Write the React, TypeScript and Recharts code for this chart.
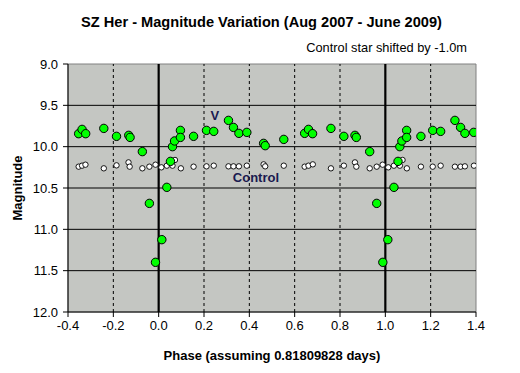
import {
  ScatterChart,
  Scatter,
  XAxis,
  YAxis,
  ReferenceLine,
  ReferenceArea,
  ReferenceDot,
} from "recharts";

// V star: [phase, magnitude]
const vPhase = [
  -0.353, -0.338, -0.322, -0.242, -0.186, -0.132, -0.126, -0.072, -0.041, -0.014,
  0.014, 0.036, 0.052, 0.061, 0.07, 0.096, 0.096, 0.154, 0.211, 0.243, 0.308, 0.33,
  0.354, 0.389, 0.463, 0.47, 0.552, 0.644, 0.661, 0.679, 0.76, 0.817, 0.866, 0.872,
  0.931, 0.962, 0.989, 1.011, 1.038, 1.056, 1.064, 1.073, 1.094, 1.094, 1.157, 1.209,
  1.244, 1.307, 1.332, 1.351, 1.39,
];
const vMag = [
  9.843, 9.791, 9.843, 9.779, 9.875, 9.863, 9.888, 10.06, 10.686, 11.399,
  11.125, 10.492, 10.178, 10.0, 9.931, 9.803, 9.888, 9.875, 9.803, 9.815, 9.682, 9.767,
  9.839, 9.827, 9.96, 9.988, 9.912, 9.839, 9.791, 9.843, 9.779, 9.875, 9.863, 9.888,
  10.06, 10.686, 11.399, 11.125, 10.492, 10.178, 10.0, 9.931, 9.803, 9.888, 9.875, 9.803,
  9.815, 9.682, 9.767, 9.839, 9.827,
];

// control star (shifted by -1.0m)
const cPhase = [
  -0.353, -0.338, -0.323, -0.242, -0.186, -0.133, -0.128, -0.072, -0.041, -0.014,
  0.012, 0.036, 0.061, 0.072, 0.098, 0.154, 0.211, 0.243, 0.308, 0.33, 0.354, 0.389,
  0.463, 0.47, 0.552, 0.644, 0.661, 0.68, 0.76, 0.817, 0.866, 0.872, 0.931, 0.962,
  0.988, 1.013, 1.038, 1.064, 1.076, 1.095, 1.157, 1.209, 1.244, 1.307, 1.332, 1.351,
  1.391,
];
const cMag = [
  10.242, 10.23, 10.218, 10.262, 10.226, 10.19, 10.242, 10.262, 10.242, 10.218,
  10.25, 10.23, 10.23, 10.161, 10.262, 10.242, 10.238, 10.23, 10.238, 10.238, 10.238, 10.23,
  10.214, 10.238, 10.23, 10.242, 10.23, 10.214, 10.262, 10.23, 10.19, 10.242, 10.262, 10.242,
  10.218, 10.25, 10.23, 10.23, 10.161, 10.262, 10.242, 10.242, 10.23, 10.242, 10.242, 10.238,
  10.23,
];

const xTicks = [-0.4, -0.2, 0, 0.2, 0.4, 0.6, 0.8, 1.0, 1.2, 1.4];
const yTicks = [9.0, 9.5, 10.0, 10.5, 11.0, 11.5, 12.0];
const dashedX = [-0.2, 0.2, 0.4, 0.6, 0.8, 1.2];
const solidX = [0, 1.0];
const hLines = [9.5, 10.0, 10.5, 11.0, 11.5];

const vData = vPhase.map((p, i) => ({ phase: p, mag: vMag[i] }));
const cData = cPhase.map((p, i) => ({ phase: p, mag: cMag[i] }));

const FONT = "Arial, 'Liberation Sans', sans-serif";

const GreenDot = (props: any) => (
  <circle cx={props.cx} cy={props.cy} r={4.2} fill="#00ff00" stroke="#000" strokeWidth={1} />
);
const WhiteDot = (props: any) => (
  <circle cx={props.cx} cy={props.cy} r={2.7} fill="#ffffff" stroke="#000" strokeWidth={0.9} />
);

export default function App() {
  return (
    <div style={{ position: "absolute", left: 0, top: 0, width: 520, height: 373, background: "#fff", fontFamily: FONT }}>
      <div style={{ position: "absolute", left: 0, width: 520, top: 14, textAlign: "center", paddingLeft: 3, boxSizing: "border-box", fontSize: 14.6, fontWeight: "bold", color: "#000", lineHeight: "17px" }}>
        SZ Her - Magnitude Variation (Aug 2007 - June 2009)
      </div>
      <div style={{ position: "absolute", right: 53, top: 40, fontSize: 12.8, color: "#000", lineHeight: "15px" }}>
        Control star shifted by -1.0m
      </div>
      <ScatterChart width={520} height={373} margin={{ top: 64, right: 44, left: 0, bottom: 0 }}>
        <ReferenceArea x1={-0.4} x2={1.4} y1={9} y2={12} fill="#c4c6c2" fillOpacity={1} stroke="#808080" strokeWidth={1} />
        {hLines.map((v) => (
          <ReferenceLine key={"h" + v} y={v} stroke="#000" strokeWidth={1} />
        ))}
        {dashedX.map((v) => (
          <ReferenceLine key={"d" + v} x={v} stroke="#000" strokeWidth={1} strokeDasharray="3 3" />
        ))}
        {solidX.map((v) => (
          <ReferenceLine key={"s" + v} x={v} stroke="#000" strokeWidth={2.2} />
        ))}
        <XAxis
          type="number"
          dataKey="phase"
          domain={[-0.4, 1.4]}
          ticks={xTicks}
          tickFormatter={(v: number) => v.toFixed(1)}
          height={61}
          stroke="#000"
          tickSize={5}
          tickMargin={4}
          tick={{ fill: "#000", fontSize: 13, fontFamily: FONT }}
          label={{ value: "Phase (assuming 0.81809828 days)", position: "insideBottom", offset: 13, fill: "#000", fontSize: 13, fontWeight: "bold", fontFamily: FONT }}
          allowDataOverflow
        />
        <YAxis
          type="number"
          dataKey="mag"
          domain={[9, 12]}
          reversed
          ticks={yTicks}
          tickFormatter={(v: number) => v.toFixed(1)}
          width={68}
          stroke="#000"
          tickSize={5}
          tickMargin={5}
          tick={{ fill: "#000", fontSize: 13, fontFamily: FONT }}
          label={{ value: "Magnitude", angle: -90, position: "insideLeft", offset: 17, fill: "#000", fontSize: 13, fontWeight: "bold", fontFamily: FONT, style: { textAnchor: "middle" } }}
          allowDataOverflow
        />
        <Scatter data={cData} shape={<WhiteDot />} isAnimationActive={false} />
        <Scatter data={vData} shape={<GreenDot />} isAnimationActive={false} />
        <ReferenceDot x={0.248} y={9.625} r={0} fill="none" stroke="none"
          label={{ value: "V", position: "center", fill: "#1a1a50", fontSize: 13, fontWeight: "bold", fontFamily: FONT }} />
        <ReferenceDot x={0.429} y={10.375} r={0} fill="none" stroke="none"
          label={{ value: "Control", position: "center", fill: "#1a1a50", fontSize: 13, fontWeight: "bold", fontFamily: FONT }} />
      </ScatterChart>
    </div>
  );
}
